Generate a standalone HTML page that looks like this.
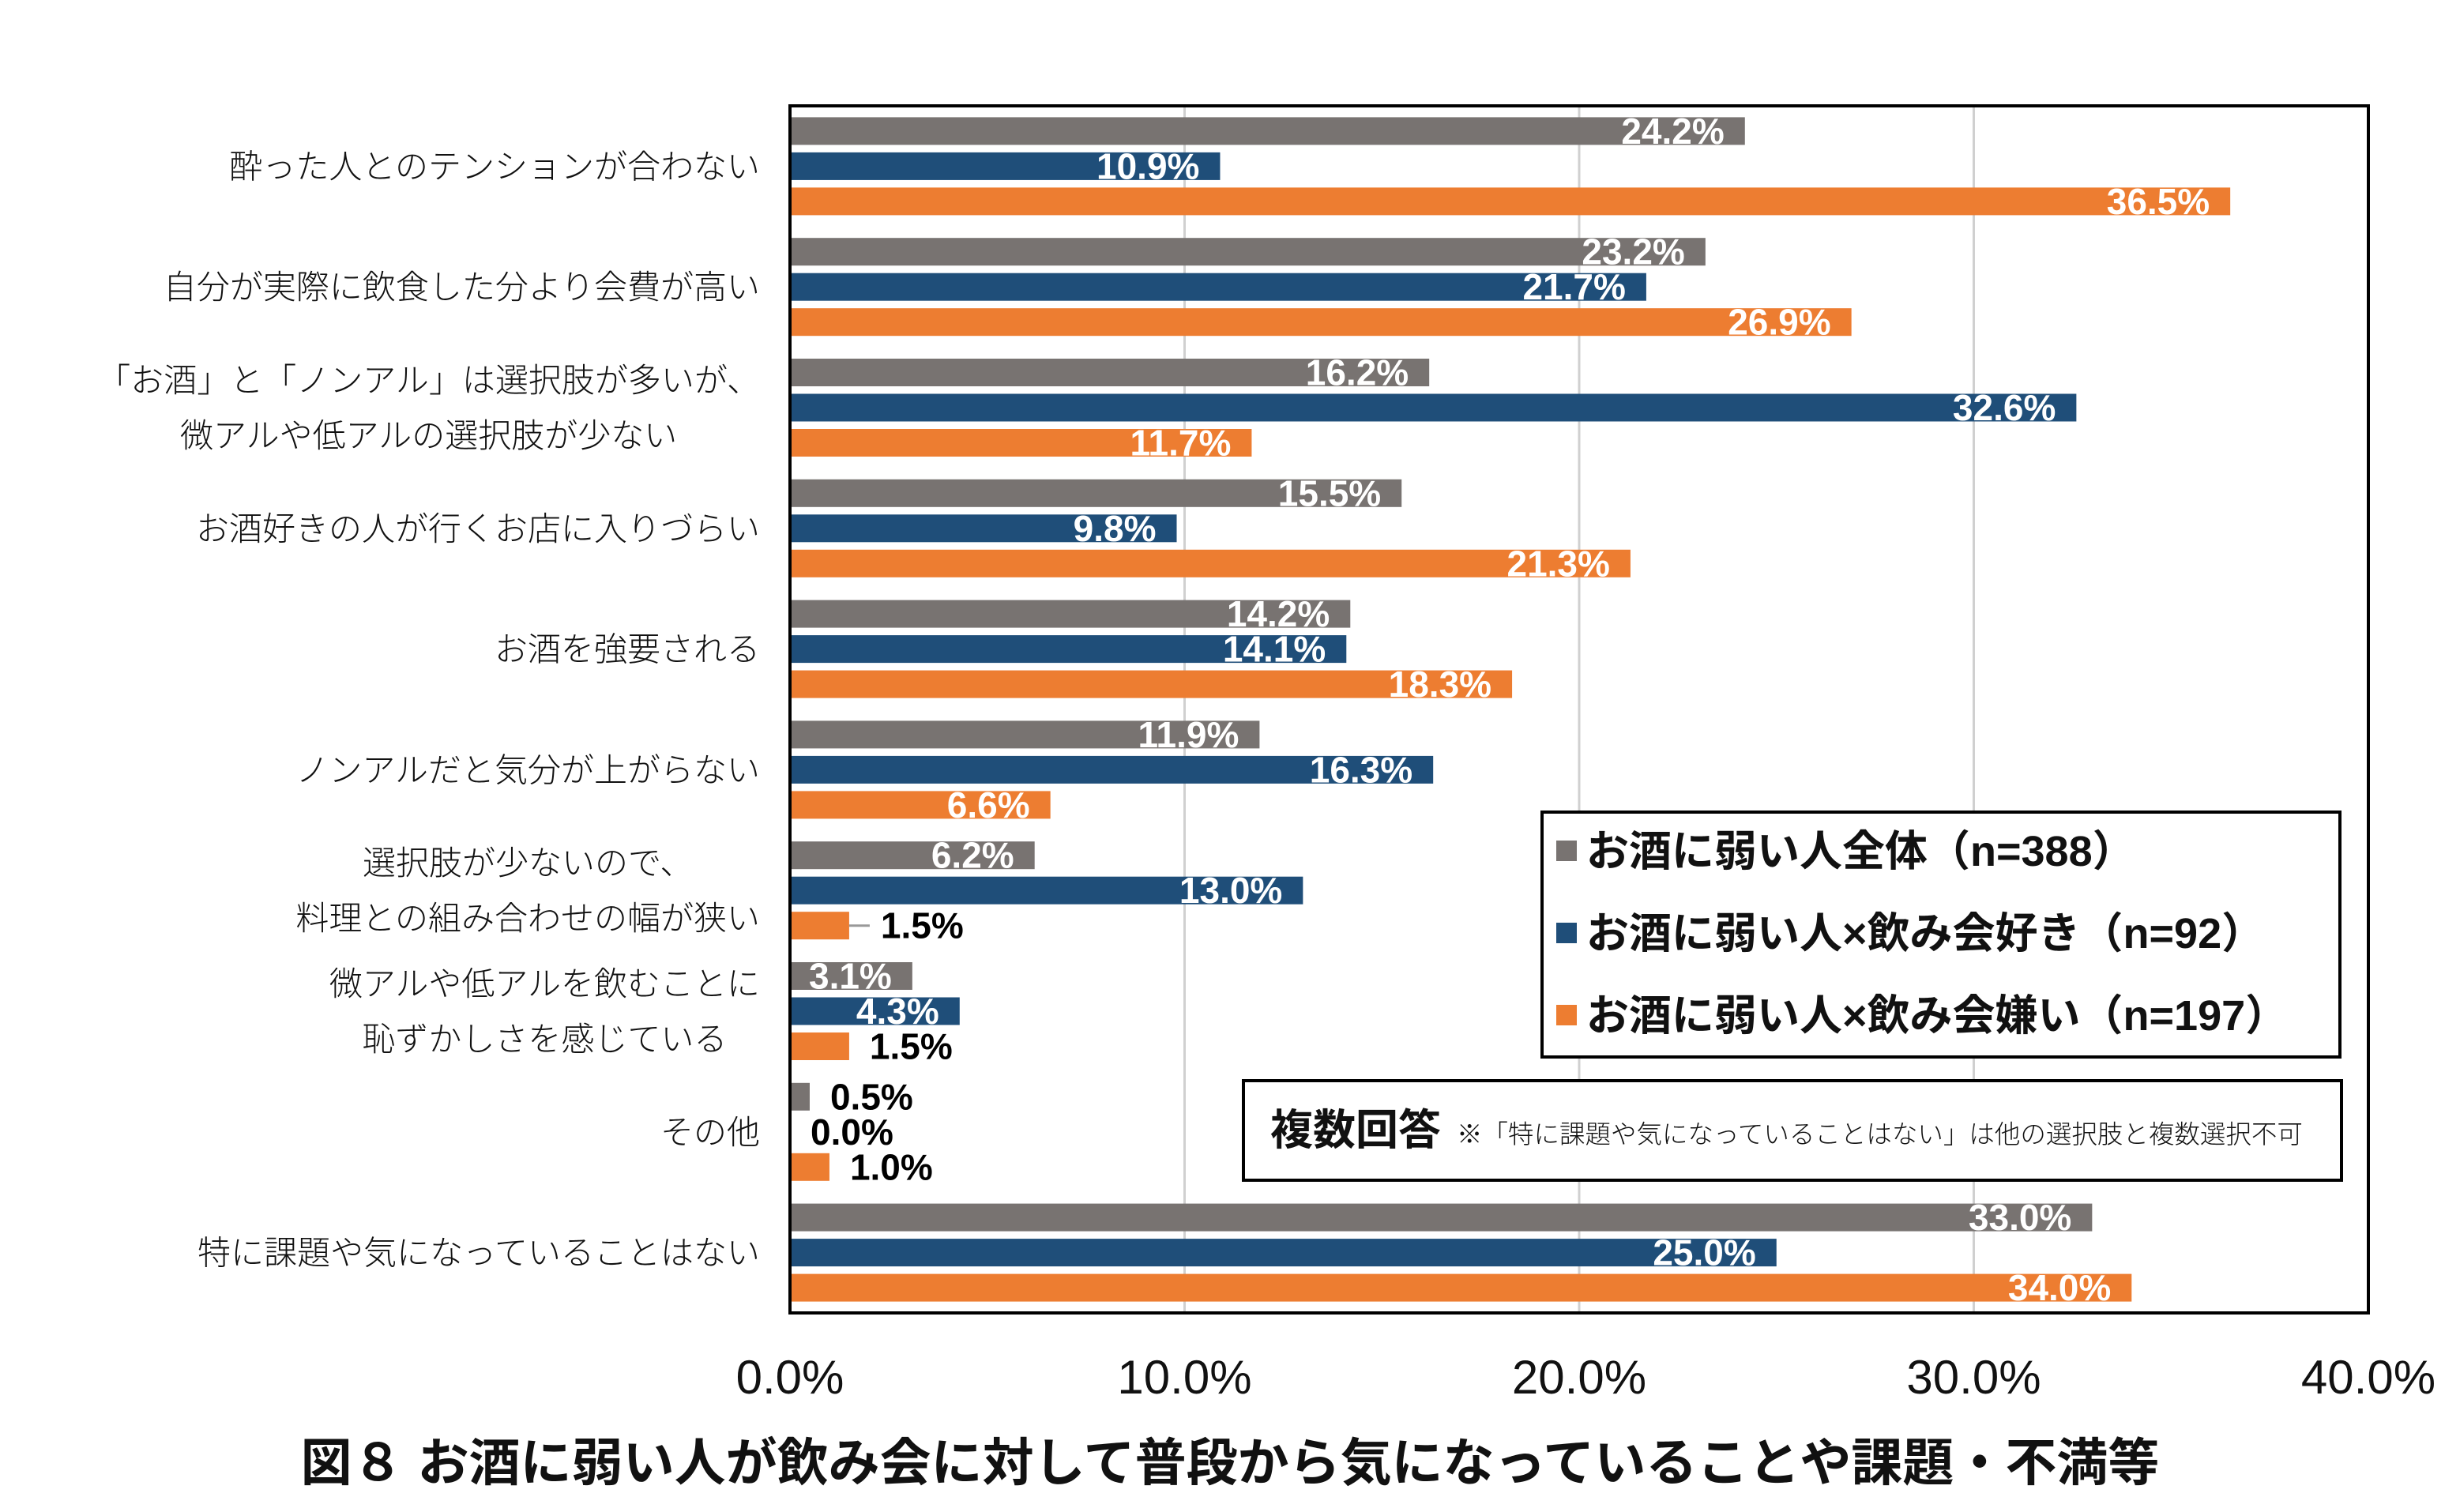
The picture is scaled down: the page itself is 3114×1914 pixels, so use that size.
<!DOCTYPE html>
<html><head><meta charset="utf-8">
<style>
html,body{margin:0;padding:0;background:#fff;}
svg{display:block;}
.lab{font-family:"Liberation Sans","Noto Sans CJK JP",sans-serif;font-weight:300;font-size:42px;fill:#111;}
.val{font-family:"Liberation Sans","Noto Sans CJK JP",sans-serif;font-weight:bold;font-size:46px;}
.tick{font-family:"Liberation Sans","Noto Sans CJK JP",sans-serif;font-size:60px;fill:#111;}
.leg{font-family:"Liberation Sans","Noto Sans CJK JP",sans-serif;font-weight:bold;font-size:54px;fill:#111;}
</style></head>
<body>
<svg id="chart" width="3114" height="1914" viewBox="0 0 3114 1914" xmlns="http://www.w3.org/2000/svg">
<g id="grid"></g>
<g id="bars"></g>
<rect x="1000" y="134" width="1998" height="1528" fill="none" stroke="#000" stroke-width="4"/>
<g id="labels"></g>
<g id="ticks"></g>
<g>
<rect x="1952" y="1028" width="1010" height="310" fill="#fff" stroke="#000" stroke-width="4"/>
<g><rect x="1970" y="1064" width="26" height="26" fill="#787371"/><text class="leg" x="2008" y="1096">お酒に弱い人全体（n=388）</text></g>
<g><rect x="1970" y="1168" width="26" height="26" fill="#1F4E79"/><text class="leg" x="2008" y="1200">お酒に弱い人×飲み会好き（n=92）</text></g>
<g><rect x="1970" y="1272" width="26" height="26" fill="#ED7D31"/><text class="leg" x="2008" y="1304">お酒に弱い人×飲み会嫌い（n=197）</text></g>
</g>
<g>
<rect x="1574" y="1368" width="1390" height="126" fill="#fff" stroke="#000" stroke-width="4"/>
<text class="leg" x="1608" y="1449">複数回答</text>
<text x="1844" y="1447" style="font-family:'Liberation Sans','Noto Sans CJK JP',sans-serif;font-size:32.5px;fill:#111;font-weight:300">※「特に課題や気になっていることはない」は他の選択肢と複数選択不可</text>
</g>
<text x="1557" y="1874" text-anchor="middle" style="font-family:'Liberation Sans','Noto Sans CJK JP',sans-serif;font-weight:bold;font-size:65px;fill:#111">図８ お酒に弱い人が飲み会に対して普段から気になっていることや課題・不満等</text>
</svg>
<script>
const categories=[["酔った人とのテンションが合わない"],["自分が実際に飲食した分より会費が高い"],["「お酒」と「ノンアル」は選択肢が多いが、","微アルや低アルの選択肢が少ない"],["お酒好きの人が行くお店に入りづらい"],["お酒を強要される"],["ノンアルだと気分が上がらない"],["選択肢が少ないので、","料理との組み合わせの幅が狭い"],["微アルや低アルを飲むことに","恥ずかしさを感じている"],["その他"],["特に課題や気になっていることはない"]];
const seriesAll=[24.2,23.2,16.2,15.5,14.2,11.9,6.2,3.1,0.5,33.0];
const seriesLike=[10.9,21.7,32.6,9.8,14.1,16.3,13.0,4.3,0.0,25.0];
const seriesDislike=[36.5,26.9,11.7,21.3,18.3,6.6,1.5,1.5,1.0,34.0];
const tickValues=[0,10,20,30,40];
const seriesColors=["#787371","#1F4E79","#ED7D31"];
const NS="http://www.w3.org/2000/svg";
const X0=1000,X1=2998,Y0=134,Y1=1662,XMAX=40;
const xs=v=>X0+(v/XMAX)*(X1-X0);
const band=(Y1-Y0)/categories.length;
const yc=i=>Y0+band*(i+0.5);
function mk(tag,attrs,parent){const e=document.createElementNS(NS,tag);for(const k in attrs)e.setAttribute(k,attrs[k]);parent.appendChild(e);return e;}
const grid=document.getElementById('grid'),bars=document.getElementById('bars'),labels=document.getElementById('labels'),ticks=document.getElementById('ticks');
tickValues.forEach(t=>{
  if(t>0&&t<XMAX){const l=mk('line',{x1:xs(t),x2:xs(t),y1:Y0,y2:Y1,stroke:'#d0d0d0','stroke-width':3},grid);
  
  }
  const tx=mk('text',{x:xs(t),y:1764,'text-anchor':'middle',class:'tick'},ticks);tx.textContent=t.toFixed(1)+'%';
  
  
});
const all=[seriesAll,seriesLike,seriesDislike];
const BH=35,PITCH=44.5;
categories.forEach((c,i)=>{
  all.forEach((s,j)=>{
    const v=s[i];const cy=yc(i)+(j-1)*PITCH;const xe=xs(v);
    const r=mk('rect',{x:X0,y:cy-BH/2,width:xe-X0,height:BH,fill:seriesColors[j]},bars);
    
    
    const t=mk('text',{class:'val',y:cy+16},bars);
    
    
    t.textContent=v.toFixed(1)+'%';
    if(v<2){t.setAttribute('x',xe+(v>=1.5&&i==6?40:26));t.setAttribute('fill','#000');
      if(v>=1.5&&i==6){const ln=mk('line',{x1:xe,x2:xe+26,y1:cy,y2:cy,stroke:'#999','stroke-width':3},bars);
        
        }
    }else{t.setAttribute('x',xe-26);t.setAttribute('text-anchor','end');t.setAttribute('fill','#fff');}
  });
  const g=mk('g',{},labels);
  
  
  if(c.length==1){const t=mk('text',{x:962,y:yc(i)+15,'text-anchor':'end',class:'lab'},g);t.textContent=c[0];}
  else{
    const ts=c.map((line,k)=>{const t=mk('text',{y:yc(i)+15+(k==0?-35:35),class:'lab','text-anchor':'middle'},g);t.textContent=line;return t;});
    const w=Math.max(...ts.map(t=>t.getComputedTextLength()));
    ts.forEach(t=>t.setAttribute('x',962-w/2));
  }
});
</script>
</body></html>
